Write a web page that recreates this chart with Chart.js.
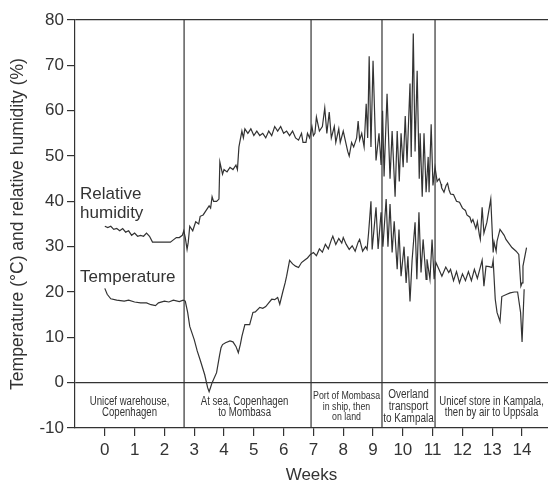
<!DOCTYPE html>
<html>
<head>
<meta charset="utf-8">
<script src="https://cdn.jsdelivr.net/npm/chart.js@4/dist/chart.umd.min.js"></script>
<style>
html,body{margin:0;padding:0;background:#fff;}
#wrap{width:548px;height:486px;position:relative;}
</style>
</head>
<body>
<div id="wrap"><canvas id="c"></canvas></div>
<script>
// ---- data (weeks on x, values on y) ----
const tempWeeks = [0.0,0.08,0.2,0.4,0.65,0.8,1.0,1.2,1.4,1.55,1.7,1.8,2.0,2.15,2.3,2.5,2.63,2.7,
  2.78,2.85,3.0,3.1,3.2,3.35,3.45,3.5,3.55,3.6,3.75,3.85,3.9,3.95,4.05,4.2,4.3,4.4,4.48,4.55,4.6,4.7,4.86,4.97,5.05,5.2,5.3,5.4,5.5,5.6,5.7,5.8,5.87,5.97,6.05,6.1,6.2,6.3,6.4,6.5,6.6,6.7,6.8,6.9,
  7.0,7.1,7.2,7.3,7.4,7.5,7.6,7.65,7.75,7.85,7.95,8.0,8.1,8.2,8.3,8.4,8.5,8.55,8.65,8.75,8.8,8.85,8.93,8.97,9.1,9.17,9.27,9.33,9.44,9.5,9.57,9.64,9.71,9.81,9.87,9.94,10.04,10.11,10.17,10.24,10.31,10.41,10.47,10.54,10.61,10.68,10.78,10.81,10.91,10.98,11.05,11.11,11.21,11.31,11.44,11.54,
  11.6,11.7,11.8,11.9,12.0,12.1,12.2,12.3,12.4,12.5,12.6,12.66,12.72,12.79,12.9,12.99,13.03,13.1,13.16,13.26,13.32,13.49,13.6,13.74,13.85,13.95,14.0,14.07];
const tempValues = [20.8,19.5,18.5,18.2,18.0,18.2,17.8,17.6,17.6,17.2,17.0,17.6,18.0,17.8,18.2,17.9,18.2,18.0,
  15.5,12.4,9.5,7.0,5.0,1.8,-1.1,-2.0,-1.0,0.0,2.2,6.0,7.7,8.4,8.8,9.2,9.0,8.0,6.6,8.5,10.2,12.8,12.8,15.5,15.6,16.6,16.4,16.8,17.6,18.4,18.3,18.8,17.3,20.0,22.0,23.5,27.0,26.2,25.7,25.4,26.5,27.0,27.5,28.3,
  28.7,28.0,29.5,28.8,30.5,29.5,31.5,32.3,30.5,31.8,30.8,32.0,30.5,29.4,30.2,29.0,31.0,31.6,29.0,30.0,29.4,33.0,40.0,29.4,38.7,29.5,37.6,30.0,40.5,30.0,39.4,28.7,35.6,25.0,33.8,23.5,30.0,22.0,27.9,17.9,27.0,35.4,22.8,37.6,24.3,31.6,22.8,27.2,22.8,31.6,22.8,26.5,25.0,23.5,25.5,24.3,
  25.0,22.5,24.5,22.0,24.0,22.5,24.5,22.5,25.0,23.0,25.5,27.0,21.3,25.7,25.6,25.4,27.0,18.4,15.5,13.5,19.0,19.5,19.8,20.0,20.0,15.5,9.0,20.6];

const humWeeks = [0.0,0.1,0.2,0.3,0.4,0.5,0.6,0.7,0.8,0.9,1.0,1.1,1.2,1.3,1.4,1.5,1.6,1.8,2.0,2.2,2.3,2.4,2.5,2.6,2.65,2.7,2.76,2.8,
  2.85,2.95,3.05,3.15,3.2,3.3,3.4,3.5,3.55,3.6,3.65,3.75,3.83,3.86,3.95,4.0,4.1,4.2,4.3,4.4,4.45,4.5,4.6,4.65,4.7,4.8,4.9,5.0,5.1,5.2,5.3,5.4,5.5,5.6,5.7,5.8,5.9,6.0,6.1,6.2,6.3,6.4,6.5,6.6,6.65,6.75,6.8,6.87,6.95,7.0,
  7.05,7.1,7.2,7.3,7.38,7.45,7.53,7.6,7.7,7.75,7.85,7.9,8.0,8.1,8.15,8.2,8.28,8.35,8.45,8.5,8.55,8.62,8.7,
  8.77,8.82,8.87,8.93,9.0,9.1,9.2,9.27,9.32,9.37,9.47,9.57,9.64,9.74,9.81,9.88,9.94,10.01,10.08,10.14,10.24,10.28,10.35,10.41,10.48,10.55,10.58,10.65,10.71,10.78,10.85,10.88,10.95,11.01,11.08,11.15,11.22,11.28,
  11.3,11.38,11.45,11.5,11.55,11.6,11.7,11.8,11.9,12.0,12.1,12.15,12.25,12.3,12.35,12.45,12.5,12.57,12.6,12.66,12.72,12.82,12.95,13.03,13.06,13.13,13.16,13.26,13.4,13.46,13.66,13.8,13.89,13.96,14.0,14.03,14.15];
const humValues = [34.5,34.2,34.5,33.8,34.0,33.5,34.0,33.2,33.5,32.5,33.0,32.3,32.5,32.3,33.0,32.3,31.0,31.0,31.0,31.0,31.5,32.0,32.0,32.5,33.5,32.0,29.4,31.0,
  34.5,33.5,35.5,35.0,36.7,37.0,38.0,39.0,38.5,41.0,40.0,40.0,40.5,48.7,46.0,47.0,46.5,47.5,47.0,48.0,47.0,52.0,55.5,54.0,56.0,55.0,56.0,54.5,55.5,54.5,55.0,54.0,55.5,54.5,56.5,55.5,56.5,55.0,55.5,54.5,55.5,54.0,53.5,55.0,53.0,53.0,55.0,54.0,56.5,54.5,
  55.0,58.6,55.5,56.5,60.6,55.0,59.7,54.0,56.5,53.0,56.0,53.0,55.5,52.5,51.0,50.0,53.0,52.0,54.0,57.7,53.5,55.0,52.0,
  61.5,54.0,72.0,52.0,71.0,49.0,55.0,48.0,60.0,45.5,63.7,45.0,55.5,41.0,55.5,44.4,55.0,47.5,58.8,48.5,66.0,49.8,77.0,51.0,68.8,45.0,55.0,41.0,55.0,42.0,49.8,42.0,57.0,43.5,47.5,44.4,45.0,43.8,
  43.0,42.0,43.5,44.0,42.5,41.6,41.5,40.0,39.8,38.5,38.0,37.0,36.5,35.4,36.0,34.0,35.5,32.5,31.6,38.7,33.0,35.4,40.5,28.7,31.0,29.0,31.2,33.8,32.5,31.6,29.8,29.0,28.3,21.3,22.0,25.7,29.8];

const dividerWeeks = [2.66, 6.92, 9.3, 11.08];
const xTickValues = [0,1,2,3,4,5,6,7,8,9,10,11,12,13,14];
const yTickValues = [-10,0,10,20,30,40,50,60,70,80];
const regionLabels = [
  ["Unicef warehouse,", "Copenhagen"],
  ["At sea, Copenhagen", "to Mombasa"],
  ["Port of Mombasa", "in ship, then", "on land"],
  ["Overland", "transport", "to Kampala"],
  ["Unicef store in Kampala,", "then by air to Uppsala"]
];
const seriesLabels = [
  {lines: ["Relative", "humidity"], week: -0.83, value: 41.5},
  {lines: ["Temperature"], week: -0.83, value: 23.2}
];

// ---- build ----
const ink = '#333';
const toPts = (xs, ys) => xs.map((x, i) => ({x: x, y: ys[i]}));
const dividerSets = dividerWeeks.map(w => ({
  data: [{x: w, y: -10}, {x: w, y: 80}],
  borderColor: ink, borderWidth: 1.2, pointRadius: 0, tension: 0
}));

const annot = {
  id: 'annot',
  afterDatasetsDraw(chart) {
    const {ctx, scales: {x, y}, chartArea} = chart;
    ctx.save();
    ctx.fillStyle = ink;
    // region labels in the band between 0 and -10 (condensed by horizontal scaling)
    const bounds = [chartArea.left].concat(dividerWeeks.map(w => x.getPixelForValue(w)), [chartArea.right]);
    const mid = y.getPixelForValue(-5);
    const fonts = [12, 12, 11, 12.5, 12];
    const spacing = [10.8, 10.8, 10.5, 12, 10.8];
    const squeeze = 0.8;
    ctx.textAlign = 'center';
    ctx.textBaseline = 'middle';
    regionLabels.forEach((lines, i) => {
      const cx = (bounds[i] + bounds[i + 1]) / 2 + (i === 1 ? -3 : 0);
      ctx.font = fonts[i] + 'px "Liberation Sans", Arial, sans-serif';
      const n = lines.length;
      const start = mid + 1.5 - (n - 1) * spacing[i] / 2;
      lines.forEach((t, k) => {
        ctx.save();
        ctx.translate(cx, start + k * spacing[i]);
        ctx.scale(squeeze, 1);
        ctx.fillText(t, 0, 0);
        ctx.restore();
      });
    });
    // series labels
    ctx.textAlign = 'left';
    ctx.font = '17px "Liberation Sans", Arial, sans-serif';
    seriesLabels.forEach(s => {
      const px = x.getPixelForValue(s.week);
      const py = y.getPixelForValue(s.value);
      s.lines.forEach((t, k) => ctx.fillText(t, px, py + k * 19));
    });
    ctx.restore();
  }
};

new Chart(document.getElementById('c'), {
  type: 'line',
  data: {
    datasets: [
      {label: 'Temperature', data: toPts(tempWeeks, tempValues), borderColor: ink, borderWidth: 1.2, pointRadius: 0, tension: 0},
      {label: 'Relative humidity', data: toPts(humWeeks, humValues), borderColor: ink, borderWidth: 1.2, pointRadius: 0, tension: 0}
    ].concat(dividerSets)
  },
  options: {
    responsive: true,
    maintainAspectRatio: false,
    animation: false,
    devicePixelRatio: 1,
    layout: {padding: {top: 20, right: 0, left: 0, bottom: 0}},
    plugins: {legend: {display: false}, tooltip: {enabled: false}},
    scales: {
      x: {
        type: 'linear', min: -1, max: 14.87,
        afterBuildTicks: s => { s.ticks = xTickValues.map(v => ({value: v})); },
        afterFit: s => { s.height = 58; },
        border: {color: ink, width: 1.2},
        grid: {drawOnChartArea: false, tickLength: 8, tickColor: ink, lineWidth: 1.2},
        ticks: {color: ink, font: {size: 17, family: '"Liberation Sans", Arial, sans-serif'}, padding: 4, maxRotation: 0, autoSkip: false},
        title: {display: true, text: 'Weeks', color: ink, font: {size: 17, family: '"Liberation Sans", Arial, sans-serif'}, padding: {top: 0, bottom: 0}}
      },
      y: {
        type: 'linear', min: -10, max: 80,
        afterBuildTicks: s => { s.ticks = yTickValues.map(v => ({value: v})); },
        afterFit: s => { s.width = 75; },
        border: {color: ink, width: 1.2},
        grid: {
          color: c => (c.tick && (c.tick.value === 0 || c.tick.value === 80)) ? ink : 'rgba(0,0,0,0)',
          lineWidth: 1.2, tickLength: 8, tickColor: ink
        },
        ticks: {color: ink, font: {size: 17, family: '"Liberation Sans", Arial, sans-serif'}, padding: 3},
        title: {display: true, text: 'Temperature (°C) and relative humidity (%)', color: ink, font: {size: 17.5, family: '"Liberation Sans", Arial, sans-serif'}, padding: {top: 8, bottom: 0}}
      }
    }
  },
  plugins: [annot]
});
</script>
</body>
</html>
